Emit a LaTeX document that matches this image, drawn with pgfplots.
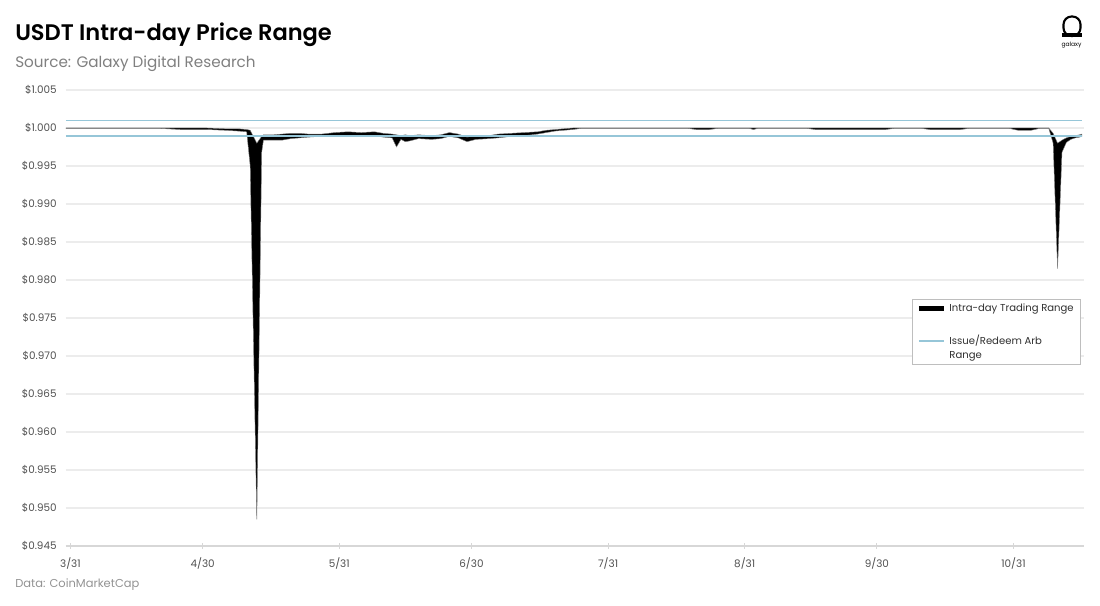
\documentclass[border=0pt]{standalone}
\usepackage{fontspec}
\setmainfont{Poppins}
\newfontfamily\titlefont{Poppins SemiBold}
\usepackage{pgfplots}
\usepackage{pgfplotstable}
\pgfplotsset{compat=1.18}
\definecolor{arb}{RGB}{150,198,216}
\definecolor{gridc}{RGB}{236,236,236}
\definecolor{axisc}{RGB}{215,215,215}
\definecolor{subc}{RGB}{128,128,128}
\definecolor{tickc}{RGB}{80,80,80}
\definecolor{legc}{RGB}{190,190,190}
\pgfplotsset{shiftedlegend/.style={legend image code/.code={\draw[##1] (0pt,5.2pt) -- (19pt,5.2pt);}}}

\pgfplotstableread{
day high low
-1 1.0000 0.99995
10 1.0000 0.99995
20 1.0000 0.99995
25 1.0000 0.9998
31 1.0000 0.9998
35 0.9999 0.9997
38 0.9999 0.9996
40 0.9998 0.9995
40.8 0.9997 0.9950
42.3 0.9980 0.9485
43.4 0.9989 0.9968
43.8 0.9991 0.9984
46 0.9991 0.9984
48 0.9992 0.9984
50 0.9993 0.9986
52 0.9993 0.9987
54 0.9992 0.9988
57 0.9992 0.9989
60 0.9994 0.9989
63 0.9995 0.9990
66 0.9994 0.9989
69 0.9995 0.9990
71 0.9993 0.9988
73 0.9992 0.9987
74 0.9991 0.9975
75 0.9990 0.9985
76 0.9991 0.9982
77 0.9990 0.9983
79 0.9991 0.9986
82 0.9990 0.9985
84 0.9991 0.9986
86 0.9994 0.9989
88 0.9992 0.9987
90 0.9988 0.9982
92 0.9990 0.9985
95 0.9990 0.9986
97 0.9992 0.9987
100 0.9993 0.9989
103 0.9994 0.9990
106 0.9995 0.9992
108 0.9997 0.9994
110 0.9998 0.9996
112 0.9999 0.9997
114 1.0000 0.9998
116 1.0000 0.99995
140 1.0000 0.99995
142 1.0000 0.9998
145 1.0000 0.9998
147 1.0000 0.99995
154 1.0000 0.99995
155 1.0000 0.9998
156 1.0000 0.99995
167 1.0000 0.99995
169 1.0000 0.9998
185 1.0000 0.9998
187 1.0000 0.99995
193 1.0000 0.99995
195 1.0000 0.9998
202 1.0000 0.9998
204 1.0000 0.99995
213 1.0000 0.99995
215 1.0000 0.9997
218 1.0000 0.9997
220 1.0000 0.99995
222 1.0000 0.99995
223 0.9993 0.9980
224 0.9980 0.9815
225 0.9984 0.9968
226 0.9987 0.9981
227 0.9989 0.9985
228 0.9990 0.9987
229 0.9991 0.9988
229.5 0.9992 0.9989
}\range

\begin{document}
\begin{tikzpicture}[x=0.75pt,y=0.75pt]
\path[fill=white] (0,0) rectangle (1100,606);
% title block
\node[anchor=base west, inner sep=0pt, font=\titlefont\fontsize{16.9}{19}\selectfont] at (15,565) {USDT Intra-day Price Range};
\node[anchor=base west, inner sep=0pt, text=subc, font=\fontsize{11.4}{13}\selectfont] at (15,538) {Source: Galaxy Digital Research};
\node[anchor=base west, inner sep=0pt, text=subc!85, font=\fontsize{8.6}{10}\selectfont] at (15,18) {Data: CoinMarketCap};
% logo
\draw[line width=1.6pt, rounded corners=6pt] (1063.5,570) rectangle (1080.5,589.5);
\fill (1062.4,568.5) rectangle (1081.6,572.5);
\node[font=\fontsize{4.5}{5}\selectfont] at (1071.5,561) {galaxy};
\begin{axis}[
  at={(49.5pt,45pt)}, anchor=south west,
  scale only axis, width=763.5pt, height=342pt,
  xmin=-1, xmax=230, ymin=0.945, ymax=1.005,
  axis x line*=bottom, axis y line*=left,
  axis line style={-},
  x axis line style={axisc, line width=1pt},
  y axis line style={draw=none},
  ymajorgrids, grid style={gridc, line width=0.8pt},
  ytick={0.945,0.950,0.955,0.960,0.965,0.970,0.975,0.980,0.985,0.990,0.995,1.000,1.005},
  yticklabels={\$0.945,\$0.950,\$0.955,\$0.960,\$0.965,\$0.970,\$0.975,\$0.980,\$0.985,\$0.990,\$0.995,\$1.000,\$1.005},
  xtick={0,30,61,91,122,153,183,214},
  xticklabels={3/31,4/30,5/31,6/30,7/31,8/31,9/30,10/31},
  ytick style={draw=none},
  xtick style={axisc, line width=0.8pt},
  xtick align=center, major tick length=4pt,
  tick label style={text=tickc, font=\fontsize{7.8}{9}\selectfont},
  yticklabel style={xshift=-3.5pt},
  xticklabel style={yshift=-3pt},
  /pgf/number format/assume math mode=true,
  legend style={at={(0.831,0.5417)}, anchor=north west, draw=legc, line width=0.6pt,
    font=\fontsize{7.55}{10.5}\selectfont, text=tickc!60!black, row sep=12.5pt,
    inner xsep=3pt, inner ysep=1pt, cells={anchor=west}},
  legend image code/.code={\draw[#1] (0pt,0pt) -- (19pt,0pt);},
  clip=false,
]
\addplot[draw=none, stack plots=y, forget plot] table[x=day,y=low]{\range};
\addplot[fill=black, draw=black!50, line width=0.3pt, stack plots=y, forget plot] table[x=day, y expr=\thisrow{high}-\thisrow{low}]{\range} \closedcycle;
\addplot[color=arb, line width=1.5pt, forget plot] coordinates {(-1,0.999) (229.5,0.999)};
\addplot[color=arb, line width=1.1pt, forget plot] coordinates {(-1,1.001) (229.5,1.001)};
\addlegendimage{black, line width=3.8pt}
\addlegendentry{Intra-day Trading Range}
\addlegendimage{color=arb, line width=1.1pt, shiftedlegend}
\addlegendentry[align=left]{Issue/Redeem Arb\\Range}
\end{axis}
\end{tikzpicture}
\end{document}
